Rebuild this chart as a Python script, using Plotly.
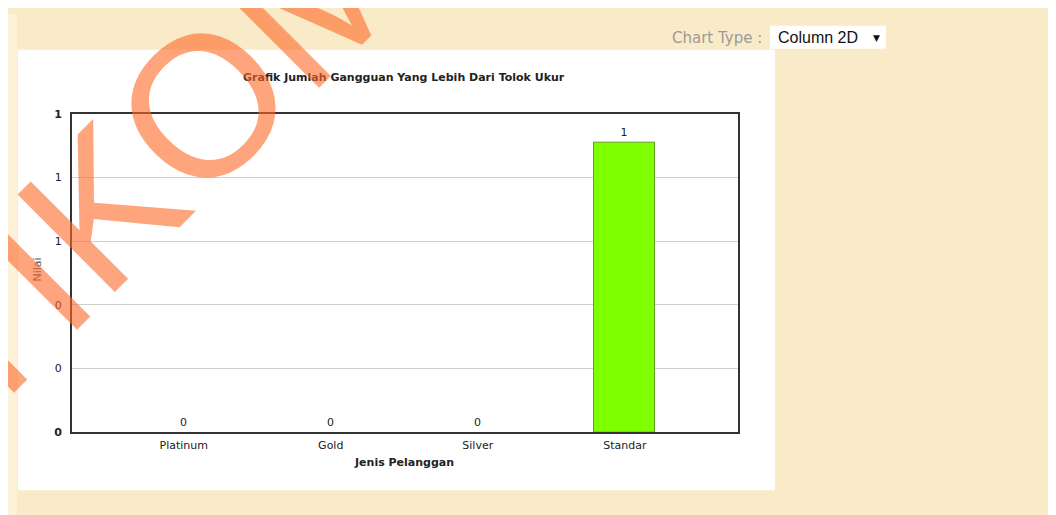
import plotly.graph_objects as go

categories = ["Platinum", "Gold", "Silver", "Standar"]
values = [0, 0, 0, 1]
y_tickvals = [0, 0.22, 0.44, 0.66, 0.88, 1.1]
y_ticktext = ["<b>0</b>", "0", "0", "1", "1", "<b>1</b>"]
value_labels = ["0", "0", "0", "1"]

# page geometry (measured): screen_x = 8 + fig_x ; screen_y = SY * (OFFY + fig_y)
OFFX, OFFY, SY = 8, 12.5, 0.976
W, H = 1048, 516
def px(x):
    return (x - OFFX) / W
def py(y):
    return 1 - (y / SY - OFFY) / H

FONT = "DejaVu Sans"
fig = go.Figure()
fig.add_trace(go.Bar(
    x=list(range(len(categories))), y=values,
    width=0.415,
    marker=dict(color="#80FF00", line=dict(color="#5C9E18", width=[0, 0, 0, 1])),
    text=value_labels, textposition="outside", cliponaxis=False,
    textfont=dict(family=FONT, size=11, color="#222222"),
    hoverinfo="skip",
))

shapes = [
    dict(type="rect", xref="paper", yref="paper", x0=0, x1=px(17), y0=0, y1=1,
         fillcolor="#FDF1D8", line=dict(width=0), layer="below"),
    dict(type="rect", xref="paper", yref="paper", x0=px(18), x1=px(775), y0=py(489), y1=py(48),
         fillcolor="#FFFFFF", line=dict(width=0), layer="below"),
    dict(type="rect", xref="paper", yref="paper", x0=px(770), x1=px(886), y0=py(47), y1=py(24),
         fillcolor="#FFFFFF", line=dict(width=0), layer="below"),
]

annotations = [
    dict(text="<b>Grafik Jumlah Gangguan Yang Lebih Dari Tolok Ukur</b>", xref="paper", yref="paper",
         x=px(404), y=py(76), showarrow=False, xanchor="center", yanchor="middle",
         font=dict(family=FONT, size=11, color="#222222")),
    dict(text="<b>Jenis Pelanggan</b>", xref="paper", yref="paper",
         x=px(404), y=py(461), showarrow=False, xanchor="center", yanchor="middle",
         font=dict(family=FONT, size=11, color="#222222")),
    dict(text="Nilai", xref="paper", yref="paper", textangle=-90,
         x=px(37), y=py(268), showarrow=False, xanchor="center", yanchor="middle",
         font=dict(family=FONT, size=11, color="#555555")),
    dict(text="Chart Type :", xref="paper", yref="paper",
         x=px(764), y=py(36), showarrow=False, xanchor="right", yanchor="middle",
         font=dict(family="DejaVu Sans", size=15, color="#9A9A9A")),
    dict(text="Column 2D", xref="paper", yref="paper",
         x=px(776), y=py(36), showarrow=False, xanchor="left", yanchor="middle",
         font=dict(family="Liberation Sans", size=16, color="#111111")),
    dict(text="▼", xref="paper", yref="paper",
         x=px(876), y=py(36), showarrow=False, xanchor="center", yanchor="middle",
         font=dict(family="DejaVu Sans", size=9, color="#111111")),
    dict(text="STIKOM", xref="paper", yref="paper", textangle=-45,
         x=px(105), y=py(202), showarrow=False, xanchor="center", yanchor="middle",
         font=dict(family="Liberation Sans", size=200, color="#FF6A2A"), opacity=0.6),
]

fig.update_layout(
    width=W, height=H, autosize=False,
    margin=dict(l=0, r=0, t=0, b=0),
    paper_bgcolor="#F9EBC8", plot_bgcolor="#FFFFFF",
    showlegend=False, bargap=0,
    shapes=shapes, annotations=annotations,
    xaxis=dict(domain=[px(72), px(738)], range=[-0.76, 3.77],
               tickvals=list(range(len(categories))), ticktext=categories,
               showgrid=False, zeroline=False, ticks="", ticklabelstandoff=2,
               showline=True, mirror=True, linecolor="#333333", linewidth=2,
               tickfont=dict(family=FONT, size=11, color="#222222")),
    yaxis=dict(domain=[py(431), py(112)], range=[0, 1.1],
               tickvals=y_tickvals, ticktext=y_ticktext,
               showgrid=True, gridcolor="#CFCFCF", gridwidth=1, zeroline=False,
               ticks="", ticklabelstandoff=6,
               showline=True, mirror=True, linecolor="#333333", linewidth=2,
               tickfont=dict(family=FONT, size=11, color="#222222")),
)

fig.write_html("out.html")
